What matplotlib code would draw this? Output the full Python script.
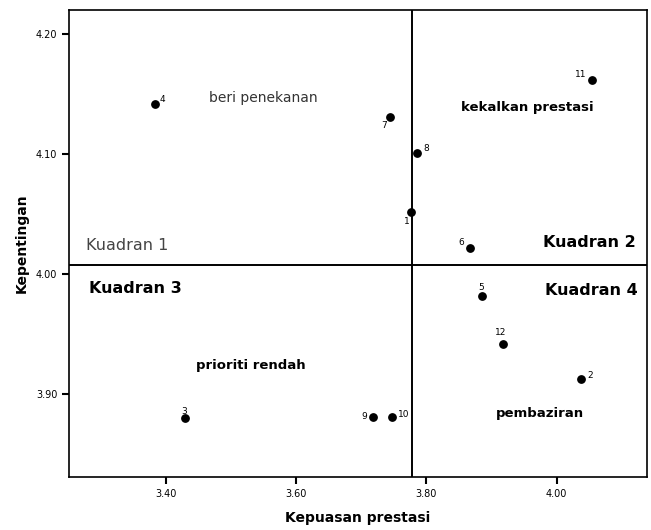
import matplotlib.pyplot as plt
from matplotlib.ticker import FormatStrFormatter

# item numbers with (kepuasan prestasi, kepentingan)
items = ['1', '2', '3', '4', '5', '6', '7', '8', '9', '10', '11', '12']
kepuasan = [3.777, 4.038, 3.430, 3.384, 3.886, 3.867, 3.744, 3.785, 3.718, 3.748, 4.054, 3.918]
kepentingan = [4.052, 3.913, 3.880, 4.142, 3.982, 4.022, 4.131, 4.101, 3.881, 3.881, 4.162, 3.942]

# label offsets in points (dx, dy)
offsets = {'1': (-5, -7), '2': (4, 2), '3': (-3, 5), '4': (3, 3), '5': (-3, 6),
           '6': (-8, 4), '7': (-6, -6), '8': (5, 3), '9': (-8, 0), '10': (4, 2),
           '11': (-12, 4), '12': (-6, 8)}

mean_x = 3.778
mean_y = 4.0075

x_ticks = [3.40, 3.60, 3.80, 4.00]
y_ticks = [3.90, 4.00, 4.10, 4.20]

fig = plt.figure(figsize=(6.51, 5.30), dpi=100)
ax = fig.add_axes([0.106, 0.10, 0.888, 0.881])

ax.scatter(kepuasan, kepentingan, s=28, color='black', zorder=3)
for name, x, y in zip(items, kepuasan, kepentingan):
    dx, dy = offsets[name]
    ax.annotate(name, (x, y), xytext=(dx, dy), textcoords='offset points',
                fontsize=6.5, ha='left', va='center')

ax.axvline(mean_x, color='black', lw=1.4)
ax.axhline(mean_y, color='black', lw=1.4)

# quadrant names
ax.text(3.2777, 4.020, 'Kuadran 1', fontsize=11.5, color='#444444', va='baseline')
ax.text(4.122, 4.0225, 'Kuadran 2', fontsize=11.5, fontweight='bold', ha='right', va='baseline')
ax.text(3.2823, 3.984, 'Kuadran 3', fontsize=11.5, fontweight='bold', va='baseline')
ax.text(4.125, 3.9825, 'Kuadran 4', fontsize=11.5, fontweight='bold', ha='right', va='baseline')

ax.text(3.550, 4.147, 'beri penekanan', fontsize=10, ha='center', va='center', color='#333333')
ax.text(3.955, 4.139, 'kekalkan prestasi', fontsize=9.5, ha='center', va='center', fontweight='bold')
ax.text(3.530, 3.924, 'prioriti rendah', fontsize=9.5, ha='center', va='center', fontweight='bold')
ax.text(3.975, 3.884, 'pembaziran', fontsize=9.5, ha='center', va='center', fontweight='bold')

ax.set_xlim(3.2515, 4.139)
ax.set_ylim(3.831, 4.22)
ax.set_xticks(x_ticks)
ax.set_yticks(y_ticks)
ax.xaxis.set_major_formatter(FormatStrFormatter('%.2f'))
ax.yaxis.set_major_formatter(FormatStrFormatter('%.2f'))
ax.tick_params(direction='out', length=5, width=1.5, labelsize=7)
for s in ax.spines.values():
    s.set_linewidth(1.2)

ax.set_xlabel('Kepuasan prestasi', fontsize=10, fontweight='bold')
ax.set_ylabel('Kepentingan', fontsize=10, fontweight='bold')
ax.xaxis.set_label_coords(0.5, -0.073)
ax.yaxis.set_label_coords(-0.07, 0.5)

fig.savefig('out.png', dpi=100)
